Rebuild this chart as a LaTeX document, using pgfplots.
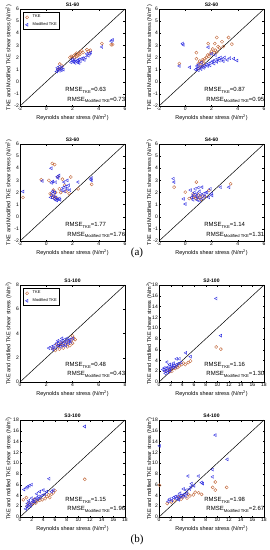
\documentclass[border=0pt]{standalone}
\usepackage{pgfplots}
\pgfplotsset{compat=1.18}
\usepackage{fontspec}
\setmainfont{Liberation Sans}
\newfontfamily\seriffont{Liberation Serif}
\definecolor{tke}{RGB}{195,105,60}
\definecolor{mtke}{RGB}{45,45,225}
\newcommand{\sub}[1]{\raisebox{-0.25em}{\fontsize{4.2}{5}\selectfont #1}}
\pgfplotsset{
  panel/.style={
    width=105pt, height=97pt, scale only axis, anchor=north west,
    tick align=inside, major tick length=1.5pt,
    every tick/.style={black, line width=0.3pt},
    axis line style={line width=0.4pt},
    /pgf/number format/assume math mode=true,
    tick label style={font=\fontsize{5}{6}\selectfont},
    xticklabel style={inner sep=1pt},
    yticklabel style={inner sep=1pt},
    label style={font=\fontsize{5.5}{6.5}\selectfont},
    xlabel={Reynolds shear stress (N/m\textsuperscript{2})},
    xlabel style={at={(axis description cs:0.5,0)}, anchor=center, yshift=-12pt},
    title style={font=\bfseries\fontsize{5}{6}\selectfont, at={(axis description cs:0.5,1)}, anchor=center, yshift=-1.7pt},
    clip=false,
  },
  leftcol/.style={ylabel style={at={(axis description cs:-0.108,0.5)}, anchor=center}},
  rightcol/.style={ylabel style={at={(axis description cs:-0.092,0.5)}, anchor=center}},
  pa/.style={xmin=-2, xmax=6, ymin=-2, ymax=6, xtick={-2,0,...,6}, ytick={-2,-1,...,6},
    ylabel={TKE and Modified TKE shear stress (N/m\textsuperscript{2})}},
  pb/.style={xmin=0, xmax=18, ymin=0, ymax=18, xtick={0,2,...,18}, ytick={0,2,...,18},
    ylabel={TKE and mdified TKE shear stress (N/m\textsuperscript{2})}},
  tkeplot/.style={only marks, mark=o, mark size=1.55pt, color=tke, line width=0.4pt},
  mtkeplot/.style={only marks, mark=triangle, mark size=1.7pt, color=mtke, line width=0.4pt, mark options={rotate=90}},
  leg/.style={legend style={at={(axis description cs:0.026,0.965)}, anchor=north west,
    font=\fontsize{4}{4.5}\selectfont, inner sep=0.6pt, row sep=-0.8pt, draw=black, line width=0.3pt,
    cells={anchor=west}},
    legend image code/.code={\path (0,0) (0.24cm,0); \draw[##1] plot coordinates {(0.12cm,0cm)};}},
}
\newcommand{\rmse}[4]{%
  \node[anchor=base west, font=\fontsize{6}{7}\selectfont, inner sep=0pt] at (rel axis cs:0.43,#3) {RMSE\sub{TKE}=#1};
  \node[anchor=base west, font=\fontsize{6}{7}\selectfont, inner sep=0pt] at (rel axis cs:0.45,#4) {RMSE\sub{Modified TKE}=#2};
}
\begin{document}
\begin{tikzpicture}
\useasboundingbox (0,0) rectangle (270pt,-550pt);
% ---------------- S1-60
\begin{axis}[panel, pa, leftcol, leg, at={(20pt,-9pt)}, title={S1-60}]
\addplot[tkeplot] coordinates {(0.9,1.0)(1.03,1.46)(1.2,1.3)(0.95,1.1)(1.8,2.0)(2.0,2.05)(2.1,2.15)(2.2,2.25)(2.3,2.35)(2.4,2.2)(2.5,2.35)(2.6,2.45)(2.7,2.55)(2.15,2.0)(2.35,2.1)(2.55,2.25)(3.1,2.65)(3.2,2.5)(3.36,2.6)(4.24,3.15)(4.95,3.05)(5.05,3.07)(2.8,2.4)(1.9,2.1)};
\addlegendentry{TKE}
\addplot[mtkeplot] coordinates {(0.8,0.85)(0.9,1.0)(1.0,0.9)(1.1,1.05)(1.2,1.2)(1.3,1.0)(0.85,1.15)(1.0,1.25)(1.15,0.95)(1.9,1.6)(2.0,1.7)(2.1,1.65)(2.2,1.8)(2.3,1.7)(2.4,1.75)(2.5,1.85)(2.6,1.7)(2.7,1.9)(2.2,1.55)(2.4,1.6)(2.0,1.85)(2.8,1.95)(3.0,2.0)(3.1,2.3)(3.2,2.15)(3.3,2.3)(3.4,2.4)(4.24,2.87)(4.95,3.35)(5.05,3.45)(2.5,1.55)(2.9,1.8)};
\addlegendentry{Modified TKE}
\addplot[black, line width=0.5pt] coordinates {(-2,-2)(6,6)};
\rmse{0.63}{0.73}{0.148}{0.048}
\end{axis}
% ---------------- S2-60
\begin{axis}[panel, pa, rightcol, at={(159pt,-9pt)}, title={S2-60}]
\addplot[tkeplot] coordinates {(-0.45,1.5)(0.85,1.9)(0.85,2.4)(1.0,1.5)(1.1,1.7)(1.2,1.6)(1.3,1.8)(1.4,1.75)(1.5,1.9)(1.6,2.0)(1.7,2.2)(1.8,2.1)(1.9,2.3)(2.0,2.5)(2.1,2.7)(2.2,2.4)(2.3,2.6)(2.4,2.45)(2.5,2.9)(1.75,3.15)(2.4,3.65)(2.25,3.15)(2.8,3.3)(3.3,3.65)(3.55,3.1)(2.6,2.8)(1.2,1.3)(1.4,1.5)(1.0,1.1)(2.9,2.9)};
\addplot[mtkeplot] coordinates {(-0.2,3.15)(-0.15,3.05)(-0.45,1.3)(0.35,1.2)(0.8,1.0)(0.9,1.1)(1.0,0.95)(1.1,1.2)(1.2,1.05)(1.3,1.3)(1.4,1.15)(1.5,1.25)(1.6,1.4)(1.7,1.3)(1.8,1.5)(1.9,1.35)(2.0,1.6)(2.1,1.7)(2.2,1.5)(2.3,1.8)(2.4,1.65)(2.5,1.9)(2.6,1.75)(2.7,2.0)(2.8,1.85)(2.9,1.7)(3.0,2.0)(3.2,1.8)(3.4,1.95)(3.7,1.9)(3.95,1.75)(1.75,2.85)(2.0,2.3)(2.3,2.2)(1.0,1.4)(0.9,1.3)(1.25,1.6)};
\addplot[black, line width=0.5pt] coordinates {(-2,-2)(6,6)};
\rmse{0.87}{0.95}{0.148}{0.048}
\end{axis}
% ---------------- S3-60
\begin{axis}[panel, pa, leftcol, at={(20pt,-144pt)}, title={S3-60}]
\addplot[tkeplot] coordinates {(-1.77,1.6)(-0.38,3.05)(0.46,4.4)(0.64,4.3)(0.4,1.8)(0.5,1.6)(0.6,1.7)(0.7,2.0)(0.55,2.2)(0.8,1.5)(1.1,2.0)(1.23,3.1)(1.87,3.28)(1.74,1.9)(2.43,2.3)(3.46,2.67)(1.0,2.3)(1.4,2.6)(0.9,3.3)(0.3,1.9)(0.65,1.55)(1.5,2.1)(0.2,3.0)};
\addplot[mtkeplot] coordinates {(-1.77,2.08)(-0.3,2.95)(0.38,4.0)(0.35,1.6)(0.45,1.9)(0.5,2.1)(0.55,1.7)(0.6,1.5)(0.65,2.0)(0.7,1.4)(0.75,1.6)(0.8,1.35)(0.9,1.45)(1.0,1.5)(1.05,1.4)(0.72,2.86)(0.97,3.4)(0.9,3.2)(0.85,3.3)(1.36,2.86)(1.6,3.0)(1.2,2.2)(1.3,2.4)(1.4,2.1)(1.5,2.5)(1.6,2.3)(1.7,2.6)(1.8,2.2)(2.43,2.86)(3.46,3.2)(3.46,3.0)(3.4,3.1)(0.4,2.8)(0.5,2.9)};
\addplot[black, line width=0.5pt] coordinates {(-2,-2)(6,6)};
\rmse{1.77}{1.76}{0.148}{0.048}
\end{axis}
% ---------------- S4-60
\begin{axis}[panel, pa, rightcol, at={(159pt,-144pt)}, title={S4-60}]
\addplot[tkeplot] coordinates {(-0.85,2.44)(0.0,2.03)(0.85,2.86)(0.3,1.5)(0.5,1.6)(0.7,1.7)(0.9,1.55)(1.1,1.6)(1.3,1.7)(1.5,1.65)(0.6,1.9)(1.0,1.8)(1.8,2.17)(3.46,2.72)(1.2,1.45)(0.8,1.5)};
\addplot[mtkeplot] coordinates {(-0.9,3.14)(-0.85,2.86)(-0.13,1.47)(0.0,1.05)(0.5,1.6)(0.6,1.8)(0.7,2.0)(0.8,1.7)(0.9,1.9)(1.0,1.6)(1.1,2.1)(1.2,1.8)(1.3,1.5)(1.4,1.9)(1.5,1.7)(1.6,2.0)(0.77,2.3)(1.28,2.44)(1.92,2.3)(2.05,1.75)(2.7,2.44)(3.33,2.44)(1.67,2.03)(0.4,2.2)(0.9,1.4)(1.1,1.3)(1.0,2.4)(0.6,1.4)(1.8,1.6)(2.0,1.9)};
\addplot[black, line width=0.5pt] coordinates {(-2,-2)(6,6)};
\rmse{1.14}{1.31}{0.148}{0.048}
\end{axis}
\node[font=\seriffont\fontsize{11}{12}\selectfont] at (137pt,-253pt) {(a)};
% ---------------- S1-100
\begin{axis}[panel, leftcol, leg, at={(20pt,-285pt)}, title={S1-100},
  xmin=0, xmax=8, ymin=0, ymax=8, xtick={0,2,...,8}, ytick={0,2,...,8},
  ylabel={TKE and mdified TKE shear stress (N/m\textsuperscript{2})}]
\addplot[tkeplot] coordinates {(2.5,2.8)(2.7,2.6)(2.9,2.9)(3.0,2.7)(3.2,3.0)(3.3,2.8)(3.5,3.1)(3.6,2.9)(3.7,3.3)(3.8,3.0)(3.9,3.4)(4.0,3.2)(4.1,3.6)(4.2,3.5)(3.4,3.3)(3.1,3.2)(2.8,3.1)(4.0,3.8)};
\addlegendentry{TKE}
\addplot[mtkeplot] coordinates {(2.2,2.8)(2.4,2.9)(2.5,2.7)(2.6,3.0)(2.7,2.8)(2.8,3.2)(2.9,3.0)(3.0,3.3)(3.1,3.1)(3.2,3.4)(3.3,3.2)(3.4,3.5)(3.5,3.3)(3.6,3.6)(3.7,3.4)(3.8,3.5)(3.9,3.3)(4.0,3.6)(3.1,2.9)(3.3,3.0)(2.9,3.4)(3.5,3.0)(3.7,3.2)(3.2,3.6)};
\addlegendentry{Modified TKE}
\addplot[black, line width=0.5pt] coordinates {(0,0)(8,8)};
\rmse{0.48}{0.43}{0.158}{0.065}
\end{axis}
% ---------------- S2-100
\begin{axis}[panel, pb, rightcol, at={(159pt,-285pt)}, title={S2-100}]
\addplot[tkeplot] coordinates {(9.8,6.5)(10.6,6.1)(5.4,3.9)(5.0,3.6)(4.5,3.25)(3.9,3.25)(3.5,3.0)(3.0,2.9)(2.5,2.6)(2.0,2.4)(1.5,2.2)(1.2,2.0)(2.2,2.0)(2.8,2.5)(3.2,2.7)(4.2,3.5)(1.8,1.9)};
\addplot[mtkeplot] coordinates {(9.8,15.5)(10.6,8.6)(4.6,5.4)(5.4,4.7)(3.0,4.3)(3.5,4.3)(1.4,3.7)(1.85,3.25)(0.7,2.3)(1.0,2.0)(1.2,2.5)(1.4,2.2)(1.6,2.8)(1.8,2.4)(2.0,2.6)(2.2,3.0)(2.4,2.7)(2.6,3.1)(2.8,2.8)(3.0,3.2)(3.3,3.4)(1.1,1.6)(1.5,1.8)(1.9,2.1)(2.5,3.5)(3.8,3.6)(0.9,2.6)};
\addplot[black, line width=0.5pt] coordinates {(0,0)(18,18)};
\rmse{1.16}{1.30}{0.158}{0.065}
\end{axis}
% ---------------- S3-100
\begin{axis}[panel, pb, leftcol, at={(20pt,-420pt)}, title={S3-100}]
\addplot[tkeplot] coordinates {(11.1,7.0)(0.57,3.2)(1.1,3.6)(2.3,2.8)(3.4,3.1)(4.3,3.4)(5.1,3.6)(5.7,4.5)(6.0,4.9)(5.4,4.2)(1.5,2.6)(2.0,2.3)(2.7,2.6)(3.0,3.0)(3.8,3.2)(4.6,3.8)(4.9,4.1)(1.2,2.0)(2.5,3.3)};
\addplot[mtkeplot] coordinates {(11.1,16.8)(5.0,7.1)(0.7,5.1)(1.1,5.4)(1.6,5.8)(2.0,6.0)(1.3,5.6)(2.9,4.3)(3.4,4.7)(4.0,5.0)(4.6,4.7)(5.4,4.7)(5.7,5.0)(1.0,1.5)(1.2,2.0)(1.4,1.8)(1.6,2.3)(1.8,2.1)(2.0,2.6)(2.2,2.9)(2.4,3.2)(2.6,2.8)(2.8,3.5)(3.0,3.3)(3.2,3.8)(3.5,3.6)(3.8,4.0)(1.5,3.0)(2.0,3.5)(1.3,2.5)(4.2,4.2)};
\addplot[black, line width=0.5pt] coordinates {(0,0)(18,18)};
\rmse{1.15}{1.96}{0.158}{0.065}
\end{axis}
% ---------------- S4-100
\begin{axis}[panel, pb, rightcol, at={(159pt,-420pt)}, title={S4-100}]
\addplot[tkeplot] coordinates {(0.1,5.9)(9.65,6.5)(9.2,5.5)(11.6,5.5)(9.65,5.0)(6.8,4.5)(7.3,4.2)(5.3,3.9)(5.9,4.1)(1.4,2.5)(2.1,2.8)(3.3,3.7)(4.2,3.8)(4.8,3.5)(3.8,3.3)(2.7,3.0)(6.2,4.6)(5.0,4.2)};
\addplot[mtkeplot] coordinates {(0.1,13.2)(9.65,15.2)(11.7,10.7)(9.2,8.8)(9.2,7.45)(5.0,7.6)(6.8,7.6)(7.3,6.4)(7.5,6.2)(5.6,6.2)(6.0,5.8)(4.2,5.2)(4.7,5.0)(5.3,5.2)(1.6,2.9)(1.8,3.3)(2.2,3.1)(2.5,3.6)(3.0,3.4)(3.2,3.9)(3.5,3.6)(3.8,4.0)(4.0,3.7)(4.3,4.2)(4.5,3.9)(3.4,3.2)(2.8,3.8)(4.8,4.4)(5.5,5.6)(3.6,4.4)};
\addplot[black, line width=0.5pt] coordinates {(0,0)(18,18)};
\rmse{1.98}{2.67}{0.158}{0.065}
\end{axis}
\node[font=\seriffont\fontsize{11}{12}\selectfont] at (137pt,-540pt) {(b)};
\end{tikzpicture}
\end{document}
